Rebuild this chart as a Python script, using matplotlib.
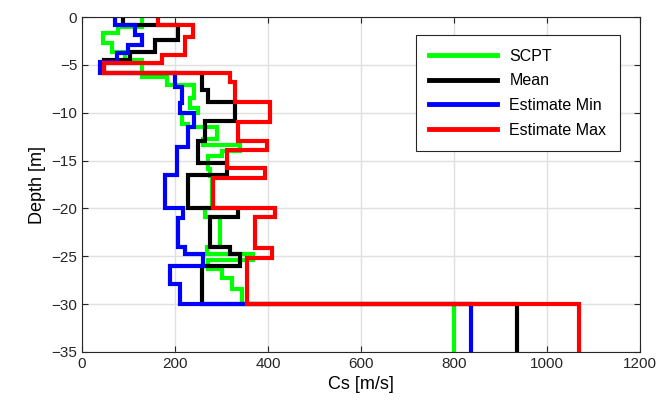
import numpy as np
import matplotlib
matplotlib.use('Agg')
import matplotlib.pyplot as plt

plt.rcParams['font.family'] = ['Liberation Sans', 'DejaVu Sans']

# layer boundaries (depth, m) and shear wave velocity (m/s) for each profile
scpt_z = [0, -1.0, -1.7, -2.7, -3.6, -4.5, -6.3, -7.1, -8.5, -9.5, -10.0, -11.2, -11.5,
          -12.7, -13.4, -14.0, -14.5, -15.9, -16.6, -20.0, -20.9, -24.0, -24.8, -25.4,
          -26.3, -27.3, -28.4, -30.0, -35.0]
scpt_v = [129, 78, 45, 65, 93, 129, 183, 240, 232, 250, 215, 228, 290, 260, 340, 300,
          270, 275, 280, 265, 297, 269, 368, 271, 301, 323, 344, 799]

mean_z = [0, -0.8, -2.4, -3.6, -4.5, -5.85, -7.6, -8.9, -10.9, -13.0, -15.3, -16.5,
          -20.0, -20.9, -24.0, -24.8, -26.0, -30.0, -35.0]
mean_v = [88, 207, 157, 103, 48, 258, 272, 330, 265, 250, 312, 229, 336, 276, 319,
          340, 258, 936]

min_z = [0, -0.8, -1.9, -2.9, -3.8, -4.7, -5.85, -7.3, -9.0, -10.0, -11.5, -13.6,
         -16.5, -20.0, -21.0, -24.0, -24.8, -26.0, -27.9, -30.0, -35.0]
min_v = [71, 114, 129, 99, 75, 39, 200, 215, 210, 240, 228, 204, 179, 217, 207, 222,
         261, 190, 211, 837]

max_z = [0, -0.84, -2.1, -4.0, -4.8, -5.85, -6.8, -8.9, -11.0, -12.9, -13.9, -15.8,
         -16.8, -20.0, -20.9, -24.1, -25.2, -30.0, -35.0]
max_v = [164, 239, 222, 172, 48, 318, 330, 405, 336, 398, 312, 394, 282, 415, 372,
         409, 355, 1068]


def profile(z, v):
    z = np.asarray(z)
    v = np.asarray(v)
    zz = np.column_stack([z[:-1], z[1:]]).ravel()
    vv = np.repeat(v, 2)
    return vv, zz


fig = plt.figure(figsize=(6.69, 4.17), dpi=100)
ax = fig.add_axes([0.1226, 0.156, 0.834, 0.803])

for z, v, c, lab in [(scpt_z, scpt_v, '#00ff00', 'SCPT'),
                     (mean_z, mean_v, 'black', 'Mean'),
                     (min_z, min_v, 'blue', 'Estimate Min'),
                     (max_z, max_v, 'red', 'Estimate Max')]:
    xx, yy = profile(z, v)
    ax.plot(xx, yy, color=c, lw=3, label=lab, solid_joinstyle='miter')

ax.set_xlim(0, 1200)
ax.set_ylim(-35, 0)
ax.set_xticks(np.arange(0, 1201, 200))
ax.set_yticks(np.arange(-35, 1, 5))
ax.grid(True, color='#e0e0e0', lw=1)
ax.set_axisbelow(True)
ax.tick_params(direction='in', labelsize=11, length=4, top=True, right=True,
               colors='#262626')
for s in ax.spines.values():
    s.set_color('#262626')
ax.set_xlabel('Cs [m/s]', fontsize=13)
ax.set_ylabel('Depth [m]', fontsize=13)

leg = ax.legend(loc='upper right', bbox_to_anchor=(0.964, 0.946), fontsize=11.5,
                handlelength=4.2, handletextpad=0.8, fancybox=False, framealpha=1,
                borderpad=0.85, labelspacing=0.6, borderaxespad=0)
leg.get_frame().set_edgecolor('#262626')
leg.get_frame().set_linewidth(0.8)
for l in leg.get_lines():
    l.set_linewidth(3.5)

fig.savefig('out.png', dpi=100)
